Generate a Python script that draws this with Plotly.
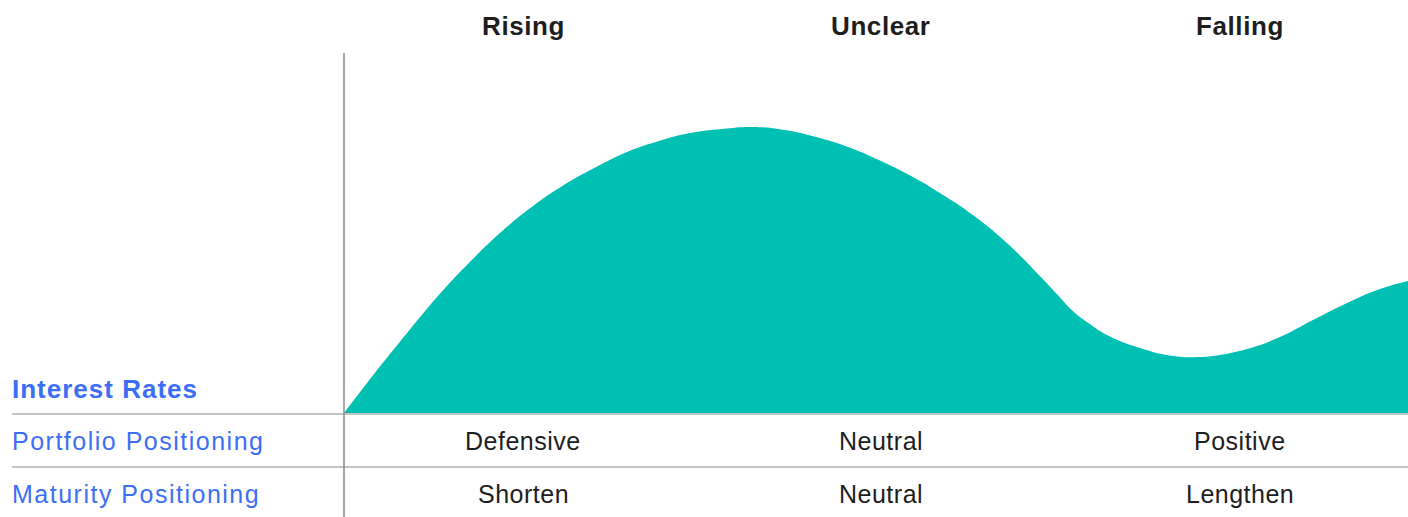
import plotly.graph_objects as go

# ---- data ----
phases = ["Rising", "Unclear", "Falling"]
portfolio_positioning = ["Defensive", "Neutral", "Positive"]
maturity_positioning = ["Shorten", "Neutral", "Lengthen"]
row_labels = ["Interest Rates", "Portfolio Positioning", "Maturity Positioning"]

# interest-rate cycle curve (x: position across the three phases, y: level)
curve_x = [0.000, 0.087, 0.178, 0.265, 0.355, 0.443, 0.533, 0.620, 0.711, 0.798,
           0.888, 0.976, 1.066, 1.153, 1.243, 1.331, 1.421, 1.508, 1.599, 1.680,
           1.773, 1.869, 1.962, 2.010, 2.055, 2.103, 2.151, 2.244, 2.337, 2.414,
           2.450, 2.546, 2.639, 2.732, 2.828, 2.921, 3.000]
curve_y = [0.00, 0.40, 0.80, 1.17, 1.51, 1.81, 2.07, 2.28, 2.46, 2.61,
           2.72, 2.80, 2.84, 2.86, 2.83, 2.76, 2.66, 2.53, 2.37, 2.20,
           1.98, 1.70, 1.37, 1.19, 1.02, 0.89, 0.78, 0.65, 0.57, 0.56,
           0.57, 0.64, 0.76, 0.93, 1.10, 1.24, 1.32]

# ---- layout constants ----
W, H = 1408, 517
FONT = "Liberation Sans, Arial, sans-serif"
TEAL = "#00BFB3"
BLUE = "#3D6EF6"
DARK = "#1e1e1e"
COL_W = 1.01  # column spacing in x units for centered text

fig = go.Figure()
fig.add_trace(go.Scatter(
    x=curve_x, y=curve_y, mode="lines", fill="tozeroy",
    line=dict(color=TEAL, width=0, shape="spline", smoothing=1.3),
    fillcolor=TEAL, hoverinfo="skip", showlegend=False,
))

def py(p):
    return 1 - p / H

def spaced(t, ls):
    return f'<span style="letter-spacing:{ls}px">{t}</span>'

annotations = []
# column headers
for i, ph in enumerate(phases):
    annotations.append(dict(
        x=(i + 0.5) * COL_W, xref="x", y=py(26), yref="paper",
        text=f"<b>{spaced(ph, 0.6)}</b>", showarrow=False, xanchor="center", yanchor="middle",
        font=dict(family=FONT, size=26, color=DARK)))
# table rows
for i, (pp, mp) in enumerate(zip(portfolio_positioning, maturity_positioning)):
    annotations.append(dict(
        x=(i + 0.5) * COL_W, xref="x", y=py(441), yref="paper",
        text=spaced(pp, 0.5), showarrow=False, xanchor="center", yanchor="middle",
        font=dict(family=FONT, size=25, color=DARK)))
    annotations.append(dict(
        x=(i + 0.5) * COL_W, xref="x", y=py(494), yref="paper",
        text=spaced(mp, 0.5), showarrow=False, xanchor="center", yanchor="middle",
        font=dict(family=FONT, size=25, color=DARK)))
# row labels
annotations.append(dict(
    x=10 / W, xref="paper", y=py(389), yref="paper",
    text=f"<b>{spaced(row_labels[0], 1.0)}</b>", showarrow=False, xanchor="left", yanchor="middle",
    font=dict(family=FONT, size=26, color=BLUE)))
annotations.append(dict(
    x=10 / W, xref="paper", y=py(441), yref="paper",
    text=spaced(row_labels[1], 1.5), showarrow=False, xanchor="left", yanchor="middle",
    font=dict(family=FONT, size=25, color=BLUE)))
annotations.append(dict(
    x=10 / W, xref="paper", y=py(494), yref="paper",
    text=spaced(row_labels[2], 1.5), showarrow=False, xanchor="left", yanchor="middle",
    font=dict(family=FONT, size=25, color=BLUE)))

shapes = [
    dict(type="line", xref="paper", yref="paper", x0=12 / W, x1=1, y0=py(414), y1=py(414),
         line=dict(color="#c4c4c4", width=2)),
    dict(type="line", xref="paper", yref="paper", x0=12 / W, x1=1, y0=py(467), y1=py(467),
         line=dict(color="#c4c4c4", width=2)),
    dict(type="line", xref="paper", yref="paper", x0=344 / W, x1=344 / W, y0=py(53), y1=0,
         line=dict(color="#8a8a8a", width=1.5)),
]

fig.update_layout(
    width=W, height=H,
    margin=dict(l=0, r=0, t=0, b=0),
    paper_bgcolor="white", plot_bgcolor="white",
    xaxis=dict(domain=[344 / W, 1], range=[0, 3], visible=False, fixedrange=True),
    yaxis=dict(domain=[(H - 413) / H, 1], range=[0, 4.13], visible=False, fixedrange=True),
    annotations=annotations, shapes=shapes, showlegend=False,
)

fig.write_html("out.html", config={"displayModeBar": False},
               post_script="document.body.style.margin='0';document.body.style.overflow='hidden';")
